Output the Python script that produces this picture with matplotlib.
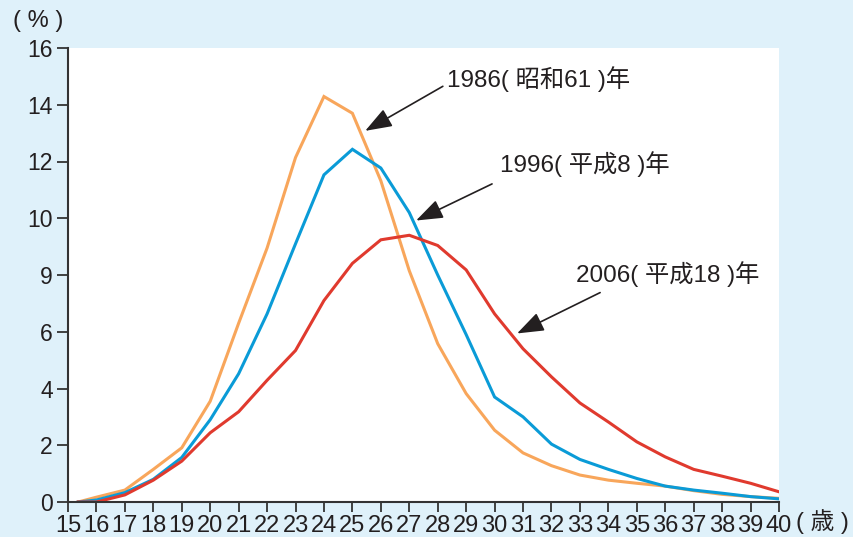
import matplotlib
matplotlib.use("Agg")
import matplotlib.pyplot as plt
from matplotlib import font_manager as fm

ages = [15.36] + list(range(16, 41))
y1986 = [0.0, 0.17, 0.42, 1.15, 1.91, 3.55, 6.3, 8.95, 12.14, 14.29, 13.7, 11.32, 8.15,
         5.58, 3.82, 2.53, 1.73, 1.28, 0.95, 0.77, 0.66, 0.56, 0.40, 0.27, 0.19, 0.13]
y1996 = [0.0, 0.07, 0.33, 0.80, 1.57, 2.90, 4.52, 6.63, 9.1, 11.53, 12.43, 11.77, 10.2,
         8.0, 5.9, 3.70, 3.0, 2.04, 1.50, 1.15, 0.83, 0.56, 0.42, 0.31, 0.19, 0.11]
y2006 = [0.0, 0.0, 0.25, 0.77, 1.44, 2.44, 3.18, 4.29, 5.34, 7.1, 8.41, 9.24, 9.40,
         9.04, 8.18, 6.63, 5.4, 4.41, 3.49, 2.82, 2.12, 1.59, 1.15, 0.91, 0.66, 0.36]
series_labels = ["1986( 昭和61 )年", "1996( 平成8 )年", "2006( 平成18 )年"]
xticks = list(range(15, 41))
yticks = [0, 2, 4, 6, 8, 10, 12, 14, 16]
ytick_labels = ["0", "2", "4", "6", "9", "10", "12", "14", "16"]

avail = {f.name for f in fm.fontManager.ttflist}
narrow = "Liberation Sans Narrow" if "Liberation Sans Narrow" in avail else (
    "DejaVu Sans Condensed" if "DejaVu Sans Condensed" in avail else "Liberation Sans")
plt.rcParams['font.family'] = ['Liberation Sans', 'Noto Sans CJK JP', 'DejaVu Sans']

BG = "#dff1fa"
TXT = "#231f20"
fig = plt.figure(figsize=(8.54, 5.37), dpi=100, facecolor=BG)
ax = fig.add_axes([68/854, 35/537, (779-68)/854, (502-48)/537])
ax.set_facecolor("white")

ax.plot(ages, y1986, color="#f8a65b", lw=2.2, solid_joinstyle="miter")
ax.plot(ages, y1996, color="#0a9bd7", lw=2.2, solid_joinstyle="miter")
ax.plot(ages, y2006, color="#e03a2e", lw=2.2, solid_joinstyle="miter")

ax.set_xlim(15, 40)
ax.set_ylim(0, 16)
ax.set_xticks(xticks)
ax.set_xticklabels([str(t) for t in xticks], fontfamily=[narrow, 'Liberation Sans'], fontsize=17, color=TXT)
ax.set_yticks(yticks)
ax.set_yticklabels(ytick_labels, fontsize=16.5, color=TXT)
for s in ["top", "right"]:
    ax.spines[s].set_visible(False)
for s in ["left", "bottom"]:
    ax.spines[s].set_color("#333333")
    ax.spines[s].set_linewidth(1.5)
ax.tick_params(axis="y", direction="out", length=8, width=1.3, color="#333333", pad=3)
ax.tick_params(axis="x", direction="out", length=7, width=1.3, color="#333333", pad=2)

cjk = ['Liberation Sans', 'Noto Sans CJK JP']
arrow = dict(arrowstyle="-|>,head_length=0.55,head_width=0.2", color="#231f20", lw=1.2,
             mutation_scale=30, shrinkA=0, shrinkB=0)
ax.annotate("", xy=(25.45, 13.08), xytext=(28.18, 14.65), arrowprops=arrow)
ax.annotate("", xy=(27.24, 9.92), xytext=(29.91, 11.21), arrowprops=arrow)
ax.annotate("", xy=(30.79, 5.94), xytext=(33.71, 7.38), arrowprops=arrow)

ax.text(28.33, 14.9, series_labels[0], fontsize=17.5, family=cjk, color=TXT, va="center", ha="left")
ax.text(30.19, 11.9, series_labels[1], fontsize=17.5, family=cjk, color=TXT, va="center", ha="left")
ax.text(32.86, 8.02, series_labels[2], fontsize=17.5, family=cjk, color=TXT, va="center", ha="left")

fig.text(13/854, 1 - 21/537, "( % )", fontsize=17, family=cjk, color=TXT, va="center", ha="left")
fig.text(796/854, 1 - 522/537, "( 歳 )", fontsize=17, family=cjk, color=TXT, va="center", ha="left")

fig.savefig("out.png", dpi=100, facecolor=BG)
